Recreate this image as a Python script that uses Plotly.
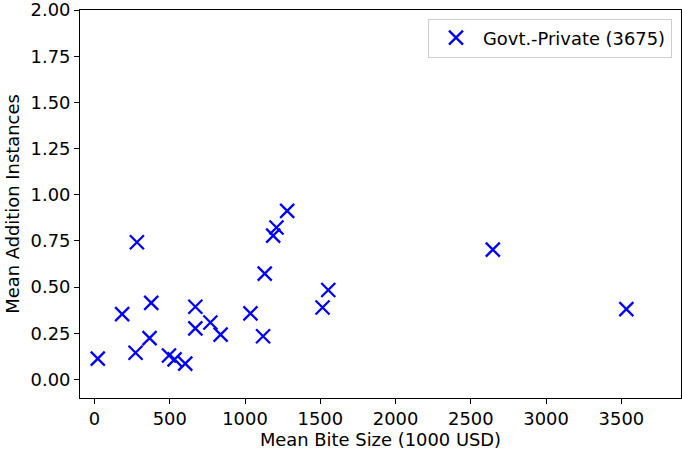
import plotly.graph_objects as go

# Mean bite size (1000 USD) and mean addition instances
bite_size = [22, 184, 282, 273, 377, 366, 495, 532, 603, 670, 670, 770, 838,
             1036, 1120, 1131, 1187, 1209, 1280, 1515, 1553, 2646, 3533]
addition = [0.113, 0.354, 0.743, 0.145, 0.415, 0.224, 0.130, 0.109, 0.086,
            0.394, 0.277, 0.309, 0.243, 0.358, 0.234, 0.573, 0.779, 0.823,
            0.913, 0.390, 0.485, 0.703, 0.381]
series_name = "Govt.-Private (3675)"
x_ticks = [0, 500, 1000, 1500, 2000, 2500, 3000, 3500]
y_ticks = [0.00, 0.25, 0.50, 0.75, 1.00, 1.25, 1.50, 1.75, 2.00]

fig = go.Figure()
fig.add_trace(go.Scatter(
    x=bite_size, y=addition, mode="markers", name=series_name,
    marker=dict(symbol="x-thin", size=14, color="#0000ff",
                line=dict(color="#0000ff", width=2.3)),
))

font = dict(family="DejaVu Sans", size=17.9, color="#000000")
axis_common = dict(showline=True, linecolor="black", linewidth=1, mirror=True,
                   ticks="outside", ticklen=5, tickcolor="black", tickwidth=1,
                   showgrid=False, zeroline=False, tickfont=font,
                   automargin=False, ticklabeloverflow="allow")

fig.update_layout(
    width=682, height=453,
    margin=dict(l=80, r=1, t=10, b=55),
    plot_bgcolor="white", paper_bgcolor="white",
    font=font,
    showlegend=True,
    legend=dict(x=0.985, y=0.978, xanchor="right", yanchor="top",
                bgcolor="white", bordercolor="#cccccc", borderwidth=1,
                itemwidth=44,
                font=dict(family="DejaVu Sans", size=17.9, color="black")),
    xaxis=dict(range=[-96, 3896], tickvals=x_ticks,
               ticktext=[str(v) for v in x_ticks],
               title=dict(text="Mean Bite Size (1000 USD)", font=font, standoff=4),
               **axis_common),
    yaxis=dict(range=[-0.1, 2.0005], tickvals=y_ticks,
               ticktext=[f"{v:.2f}" for v in y_ticks],
               title=dict(text="Mean Addition Instances", font=font, standoff=6),
               **axis_common),
)

fig.write_html("out.html", config={"displayModeBar": False},
               post_script="document.body.style.margin='0';")
